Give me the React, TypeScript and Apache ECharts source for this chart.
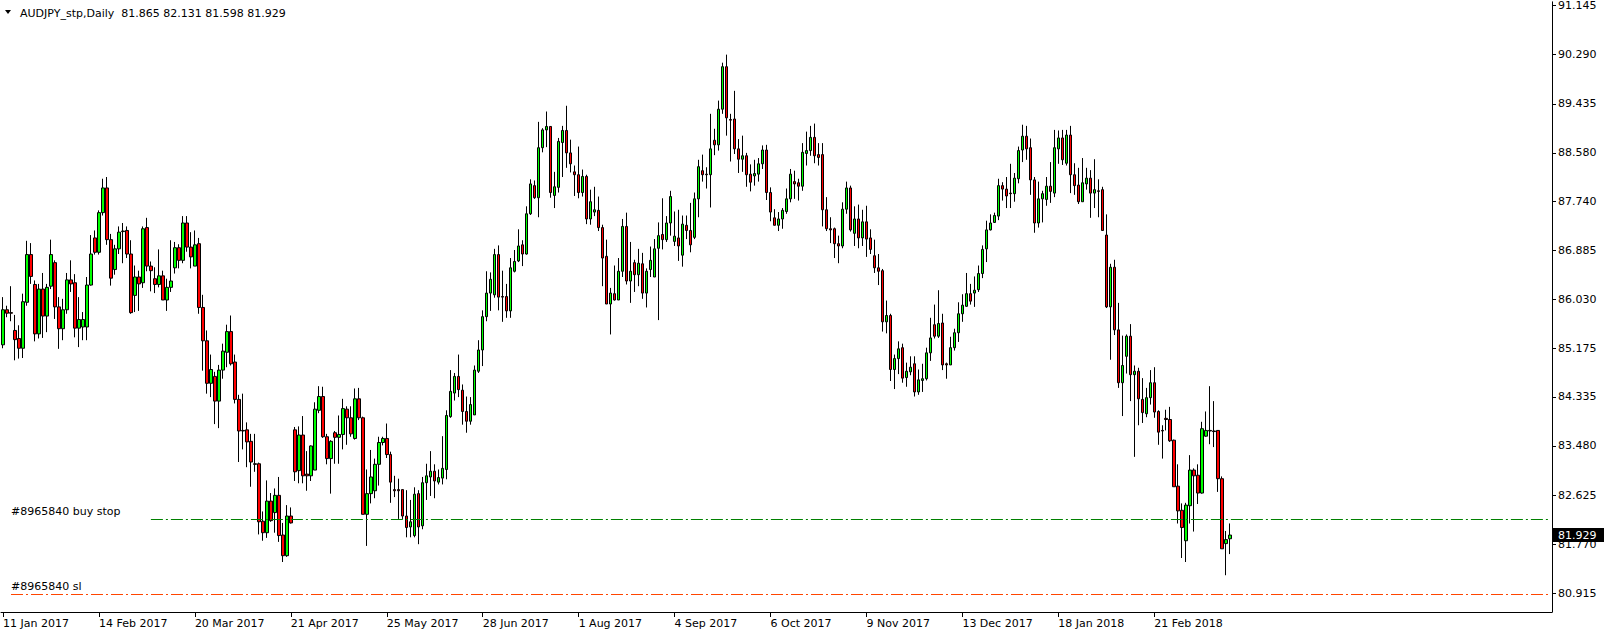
import React, { useEffect, useRef } from "react";
import * as echarts from "echarts";

const FONT = "DejaVu Sans";
const SYMBOL_TITLE = "AUDJPY_stp,Daily";
const MONTHS = ["Jan", "Feb", "Mar", "Apr", "May", "Jun", "Jul", "Aug", "Sep", "Oct", "Nov", "Dec"];
const FIRST_DAY = "2017-01-11";
const HOLIDAYS = ["2017-12-25", "2018-01-01"];
const TOTAL_SLOTS = 388;
const LABEL_EVERY = 24;

const yTickValues = [91.145, 90.29, 89.435, 88.58, 87.74, 86.885, 86.03, 85.175, 84.335, 83.48, 82.625, 81.77, 80.915];
const BUY_STOP = 82.2;
const STOP_LOSS = 80.9;
const BUY_STOP_LABEL = "#8965840 buy stop";
const SL_LABEL = "#8965840 sl";

const opens = [
  85.24, 85.85, 85.80, 85.49, 85.35, 85.18, 85.98, 86.81, 86.29, 85.43, 86.21, 85.74, 86.26, 86.67, 85.90, 85.52, 85.85, 86.37, 86.32, 85.53,
  85.55, 85.55, 86.28, 87.10, 86.85, 87.54, 87.97, 87.07, 86.55, 86.91, 87.21, 87.23, 86.82, 86.10, 86.42, 86.32, 87.28, 86.61, 86.39, 86.29,
  86.44, 86.02, 86.24, 86.58, 86.93, 86.71, 87.36, 86.94, 86.61, 87.00, 85.89, 85.31, 84.57, 84.69, 84.26, 84.80, 85.11, 85.47, 84.94, 84.29,
  83.75, 83.76, 83.56, 83.17, 83.17, 82.17, 81.97, 82.52, 82.32, 82.62, 81.93, 81.57, 82.26, 83.76, 83.05, 83.67, 82.99, 82.96, 83.06, 84.10,
  84.34, 83.64, 83.26, 83.71, 83.63, 83.68, 84.12, 83.97, 83.61, 84.30, 83.97, 82.29, 82.65, 82.70, 83.16, 83.54, 83.61, 83.33, 82.72, 82.72,
  82.72, 82.26, 82.07, 81.92, 82.65, 82.09, 82.84, 82.94, 83.04, 82.85, 82.92, 83.07, 83.99, 84.40, 84.69, 84.45, 84.08, 83.91, 84.02, 84.78,
  85.15, 85.73, 86.14, 86.11, 86.81, 86.08, 86.08, 85.83, 86.52, 86.70, 86.98, 86.82, 87.52, 88.01, 87.80, 88.67, 88.98, 89.04, 87.84, 87.98,
  88.76, 88.97, 88.58, 88.25, 88.20, 87.89, 88.17, 87.43, 87.55, 87.58, 87.28, 86.78, 85.95, 86.13, 86.02, 86.52, 87.30, 86.35, 86.67, 86.46,
  86.65, 86.14, 86.55, 86.42, 86.92, 87.16, 87.07, 87.36, 87.04, 87.10, 86.80, 87.32, 87.23, 87.11, 87.78, 88.27, 88.21, 88.20, 88.80, 88.72,
  89.34, 90.08, 89.16, 89.17, 88.65, 88.47, 88.53, 88.21, 88.18, 88.21, 88.39, 88.63, 87.89, 87.45, 87.32, 87.43, 87.56, 87.78, 88.08, 88.06,
  88.00, 88.57, 88.62, 88.85, 88.55, 88.55, 87.59, 87.26, 87.26, 87.00, 86.96, 87.60, 87.97, 87.18, 87.43, 87.10, 87.38, 87.10, 86.79, 86.58,
  86.53, 85.64, 85.75, 84.81, 85.00, 85.19, 84.67, 84.77, 84.91, 84.42, 84.62, 84.65, 85.10, 85.59, 85.39, 85.62, 84.91, 84.89, 85.19, 85.45,
  85.78, 85.91, 86.13, 86.14, 86.20, 86.48, 86.91, 87.24, 87.37, 87.48, 88.01, 87.95, 87.88, 87.87, 88.13, 88.63, 88.87, 88.67, 88.11, 87.36,
  87.78, 87.77, 88.00, 87.88, 88.65, 88.84, 88.40, 88.89, 88.20, 88.02, 87.73, 88.04, 88.14, 87.88, 87.92, 87.94, 87.15, 85.90, 86.59, 85.50,
  84.58, 85.04, 85.39, 84.72, 84.78, 84.29, 84.04, 84.32, 84.58, 84.08, 83.75, 83.96, 83.94, 83.58, 82.78, 82.36, 81.83, 82.44, 83.06, 82.97,
  82.66, 83.65, 83.75, 83.74, 83.75, 82.91, 81.78, 81.865,
];

const highs = [
  86.07, 85.92, 86.26, 85.76, 85.58, 86.13, 87.05, 87.01, 86.36, 86.30, 86.49, 86.30, 87.07, 86.71, 86.07, 86.04, 86.49, 86.71, 86.47, 86.07,
  85.81, 86.42, 87.15, 87.23, 87.58, 88.13, 88.16, 87.17, 86.98, 87.30, 87.36, 87.30, 87.06, 86.62, 86.53, 87.30, 87.45, 86.69, 86.59, 86.90,
  86.53, 86.39, 87.06, 87.03, 86.99, 87.48, 87.48, 87.20, 87.23, 87.10, 86.11, 85.49, 85.07, 84.77, 84.89, 85.26, 85.59, 85.75, 85.07, 84.37,
  84.39, 83.89, 83.69, 83.69, 83.19, 82.34, 82.88, 82.66, 82.74, 82.94, 82.14, 82.45, 82.41, 83.81, 83.82, 84.00, 83.39, 83.49, 84.24, 84.52,
  84.51, 83.69, 83.58, 83.74, 84.01, 84.30, 84.17, 84.17, 84.48, 84.49, 83.99, 83.07, 83.41, 83.26, 83.64, 83.64, 83.87, 83.38, 82.96, 82.91,
  82.72, 82.71, 82.54, 82.76, 82.71, 82.94, 83.17, 83.39, 83.16, 83.07, 83.65, 84.10, 84.80, 84.75, 85.07, 84.55, 84.34, 84.33, 84.88, 85.32,
  85.84, 86.52, 86.50, 86.91, 86.97, 86.53, 86.30, 86.75, 86.89, 87.25, 87.06, 87.65, 88.12, 88.10, 89.12, 89.01, 89.30, 89.04, 88.25, 88.84,
  89.05, 89.40, 88.81, 88.36, 88.69, 88.29, 88.20, 87.94, 87.99, 87.82, 87.33, 87.07, 86.23, 86.62, 86.75, 87.43, 87.54, 87.03, 86.72, 86.91,
  86.84, 86.57, 86.95, 87.08, 87.37, 87.79, 87.48, 87.92, 87.56, 87.59, 87.49, 87.49, 87.71, 87.89, 88.46, 88.55, 88.33, 89.26, 89.00, 89.49,
  90.15, 90.29, 89.26, 89.66, 88.82, 88.88, 88.58, 88.38, 88.46, 88.49, 88.71, 88.72, 87.98, 87.60, 87.55, 87.62, 87.96, 88.30, 88.27, 88.13,
  88.75, 88.95, 89.05, 89.09, 88.75, 88.75, 87.81, 87.46, 87.28, 87.14, 87.72, 88.08, 88.01, 87.65, 87.68, 87.59, 87.66, 87.25, 87.07, 86.82,
  86.56, 86.01, 85.78, 85.07, 85.30, 85.26, 84.93, 85.04, 85.04, 84.81, 84.91, 85.19, 85.71, 85.94, 86.19, 85.78, 84.93, 85.38, 85.52, 85.98,
  86.12, 86.49, 86.30, 86.43, 86.62, 86.97, 87.40, 87.51, 87.54, 88.13, 88.07, 88.16, 88.39, 88.23, 88.69, 89.07, 89.05, 88.83, 88.16, 88.08,
  87.92, 88.16, 88.42, 88.98, 88.97, 88.98, 88.98, 89.05, 88.40, 88.32, 88.49, 88.32, 88.28, 88.47, 88.12, 87.99, 87.51, 86.65, 86.72, 85.97,
  85.40, 85.42, 85.60, 84.88, 84.84, 84.66, 84.49, 84.80, 84.85, 84.10, 83.84, 84.11, 84.16, 83.59, 83.16, 82.48, 82.49, 83.32, 83.09, 83.16,
  83.90, 84.08, 84.52, 84.26, 83.75, 82.95, 82.00, 82.131,
];

const lows = [
  85.18, 85.72, 85.65, 84.97, 85.00, 85.01, 85.92, 86.30, 85.30, 85.35, 85.36, 85.46, 86.21, 85.69, 85.17, 85.32, 85.78, 86.16, 85.37, 85.20,
  85.32, 85.32, 86.27, 86.81, 86.81, 87.49, 86.98, 86.27, 86.46, 86.82, 86.66, 86.75, 85.78, 85.81, 85.83, 86.23, 86.52, 86.17, 86.14, 86.24,
  86.02, 85.83, 86.16, 86.48, 86.57, 86.66, 86.86, 86.57, 86.61, 85.78, 84.79, 84.39, 84.33, 83.86, 83.79, 84.65, 84.85, 84.88, 84.22, 83.20,
  83.42, 83.11, 82.77, 83.03, 81.94, 81.83, 81.88, 82.16, 81.97, 81.81, 81.46, 81.55, 82.13, 82.87, 82.83, 82.83, 82.70, 82.87, 83.06, 84.05,
  83.62, 83.16, 82.65, 83.17, 83.17, 83.42, 83.50, 83.64, 83.59, 83.93, 82.29, 81.74, 82.48, 82.57, 82.79, 83.49, 83.27, 82.49, 82.59, 82.21,
  82.21, 81.89, 81.89, 81.89, 81.77, 82.03, 82.54, 82.61, 82.57, 82.81, 82.81, 82.90, 83.97, 84.27, 84.33, 83.85, 83.71, 83.85, 84.02, 84.75,
  84.87, 85.65, 85.83, 86.06, 85.84, 85.64, 85.71, 85.71, 86.50, 86.68, 86.61, 86.81, 87.50, 87.78, 87.46, 88.59, 88.68, 87.80, 87.62, 87.89,
  88.16, 88.32, 88.24, 87.83, 87.79, 87.82, 87.34, 87.33, 87.48, 87.22, 86.26, 85.95, 85.42, 86.01, 86.02, 86.42, 86.29, 85.97, 86.16, 86.26,
  86.04, 85.89, 86.42, 86.42, 85.67, 86.90, 87.03, 87.14, 86.96, 86.70, 86.60, 87.08, 86.85, 87.08, 87.46, 88.08, 87.96, 87.63, 88.54, 88.62,
  89.26, 88.88, 88.43, 88.56, 88.23, 88.25, 87.99, 87.91, 88.01, 88.08, 88.30, 87.76, 87.39, 87.32, 87.22, 87.26, 87.52, 87.72, 87.78, 87.75,
  87.92, 88.36, 88.53, 88.40, 88.36, 87.30, 87.22, 87.01, 86.75, 86.66, 86.92, 87.52, 87.21, 86.96, 86.92, 86.96, 86.77, 86.82, 86.49, 86.28,
  85.47, 85.44, 84.61, 84.47, 84.73, 84.58, 84.51, 84.71, 84.34, 84.37, 84.42, 84.62, 84.96, 85.35, 85.36, 84.80, 84.65, 84.89, 85.14, 85.29,
  85.64, 85.90, 85.94, 85.90, 86.16, 86.40, 86.68, 87.23, 87.36, 87.41, 87.75, 87.62, 87.62, 87.73, 88.05, 88.42, 88.46, 87.85, 87.19, 87.28,
  87.37, 87.66, 87.71, 87.81, 88.39, 88.37, 88.36, 87.88, 87.85, 87.69, 87.73, 87.94, 87.45, 87.62, 87.46, 87.23, 85.88, 84.98, 85.41, 84.49,
  84.00, 84.74, 84.26, 83.29, 83.84, 83.88, 83.98, 84.20, 83.97, 83.50, 83.26, 83.75, 83.55, 82.77, 82.13, 81.53, 81.46, 82.13, 81.99, 82.47,
  82.65, 83.64, 83.51, 83.46, 82.68, 81.69, 81.23, 81.598,
];

const closes = [
  85.85, 85.79, 85.79, 85.33, 85.18, 85.99, 86.81, 86.43, 85.43, 86.21, 85.74, 86.24, 86.81, 85.90, 85.52, 85.85, 86.37, 86.30, 85.53, 85.68,
  85.68, 86.28, 86.82, 86.85, 87.54, 87.97, 87.07, 86.40, 86.91, 87.20, 87.22, 86.82, 85.80, 86.42, 86.30, 87.26, 86.61, 86.53, 86.29, 86.44,
  86.02, 86.24, 86.35, 86.93, 86.71, 87.36, 86.94, 86.77, 86.98, 85.89, 85.31, 84.57, 84.81, 84.26, 84.80, 85.13, 85.47, 84.91, 84.29, 83.74,
  83.74, 83.55, 83.20, 83.16, 82.16, 81.97, 82.52, 82.18, 82.62, 81.92, 81.57, 82.26, 82.14, 83.03, 83.67, 82.96, 82.96, 83.48, 84.12, 84.34,
  83.64, 83.26, 83.56, 83.63, 83.68, 84.13, 83.97, 83.69, 84.30, 83.97, 82.29, 82.65, 82.94, 83.16, 83.54, 83.61, 83.33, 82.85, 82.70, 82.70,
  82.26, 82.06, 82.16, 82.64, 82.07, 82.84, 82.96, 83.04, 82.87, 82.93, 83.09, 84.01, 84.43, 84.69, 84.46, 84.08, 83.91, 84.20, 84.80, 85.15,
  85.73, 86.14, 86.38, 86.81, 86.07, 86.07, 85.83, 86.58, 86.69, 86.96, 86.82, 87.52, 88.04, 87.80, 88.67, 88.98, 89.04, 87.89, 87.99, 88.78,
  88.97, 88.58, 88.39, 88.20, 87.89, 88.17, 87.43, 87.73, 87.59, 87.28, 86.75, 85.95, 86.14, 86.02, 86.52, 87.30, 86.35, 86.52, 86.46, 86.66,
  86.14, 86.52, 86.71, 86.91, 87.14, 87.07, 87.36, 87.82, 87.13, 86.96, 87.34, 87.23, 86.98, 87.78, 88.34, 88.20, 88.20, 88.65, 88.72, 89.34,
  90.08, 89.19, 89.15, 88.65, 88.47, 88.53, 88.20, 88.07, 88.22, 88.39, 88.63, 87.89, 87.55, 87.32, 87.43, 87.58, 87.78, 88.21, 88.04, 88.00,
  88.59, 88.62, 88.85, 88.53, 88.50, 87.59, 87.26, 87.24, 87.00, 86.96, 87.60, 87.97, 87.24, 87.43, 87.10, 87.38, 87.08, 86.90, 86.58, 86.52,
  85.64, 85.75, 84.81, 85.00, 85.17, 84.66, 84.78, 84.85, 84.42, 84.63, 84.65, 85.10, 85.36, 85.39, 85.61, 84.89, 84.89, 85.19, 85.45, 85.78,
  85.93, 86.13, 86.00, 86.19, 86.48, 86.90, 87.24, 87.36, 87.49, 88.01, 87.95, 87.83, 87.87, 88.14, 88.62, 88.87, 88.65, 88.11, 87.36, 87.78,
  87.87, 88.00, 87.91, 88.67, 88.84, 88.46, 88.89, 88.20, 88.01, 87.73, 88.06, 88.14, 87.88, 87.94, 87.91, 87.23, 85.90, 86.59, 85.50, 84.58,
  84.88, 85.39, 84.72, 84.78, 84.30, 84.06, 84.32, 84.58, 84.07, 83.72, 83.74, 83.94, 83.57, 82.77, 82.35, 82.06, 82.45, 83.06, 82.96, 82.66,
  83.78, 83.75, 83.74, 83.73, 82.91, 81.69, 81.85, 81.929,
];

function buildDates(count: number): string[] {
  const out: string[] = [];
  let t = Date.parse(FIRST_DAY + "T00:00:00Z");
  while (out.length < count) {
    const d = new Date(t);
    const wd = d.getUTCDay();
    const iso = d.toISOString().slice(0, 10);
    if (wd !== 0 && wd !== 6 && !HOLIDAYS.includes(iso)) {
      out.push(`${d.getUTCDate()} ${MONTHS[d.getUTCMonth()]} ${d.getUTCFullYear()}`);
    }
    t += 86400000;
  }
  return out;
}

export default function App() {
  const ref = useRef<HTMLDivElement>(null);

  useEffect(() => {
    if (!ref.current) return;
    const chart = echarts.init(ref.current, null, { renderer: "svg" });
    const dates = buildDates(TOTAL_SLOTS);
    const n = closes.length;
    const candles = closes.map((c, i) => [opens[i], c, lows[i], highs[i]]);
    const showLabel = (idx: number) => idx % LABEL_EVERY === 0 && idx < n;
    const last = n - 1;
    const header = `${SYMBOL_TITLE}  ${opens[last].toFixed(3)} ${highs[last].toFixed(3)} ${lows[last].toFixed(3)} ${closes[last].toFixed(3)}`;
    const dash = [12, 3, 2, 3];

    chart.setOption({
      animation: false,
      backgroundColor: "#ffffff",
      textStyle: { fontFamily: FONT },
      grid: { left: 1, right: 52, top: 1, bottom: 24, containLabel: false },
      xAxis: {
        type: "category",
        data: dates,
        boundaryGap: true,
        axisLine: { show: true, lineStyle: { color: "#000", width: 1 } },
        axisTick: { show: true, alignWithLabel: true, interval: showLabel, length: 5, lineStyle: { color: "#000" } },
        axisLabel: {
          interval: showLabel,
          align: "left",
          color: "#000",
          fontFamily: FONT,
          fontSize: 11,
          margin: 6,
        },
        splitLine: { show: false },
      },
      yAxis: {
        type: "value",
        position: "right",
        min: 80.59,
        max: 91.209,
        axisLine: { show: true, lineStyle: { color: "#000", width: 1 } },
        axisTick: { show: true, length: 4, customValues: yTickValues, lineStyle: { color: "#000" } },
        axisLabel: {
          customValues: yTickValues,
          formatter: (v: number) => v.toFixed(3),
          color: "#000",
          fontFamily: FONT,
          fontSize: 11,
          margin: 6,
        },
        splitLine: { show: false },
      },
      series: [
        {
          type: "candlestick",
          data: candles,
          barWidth: 3,
          itemStyle: {
            color: "#00ff00",
            color0: "#ff0000",
            borderColor: "#000",
            borderColor0: "#000",
            borderColorDoji: "#000",
            borderWidth: 1,
          },
          markLine: {
            silent: true,
            symbol: "none",
            animation: false,
            label: { show: false },
            data: [
              [
                { coord: [37, BUY_STOP], lineStyle: { color: "#008000", type: dash, width: 1 } },
                { coord: [TOTAL_SLOTS - 1, BUY_STOP] },
              ],
              [
                { coord: [2, STOP_LOSS], lineStyle: { color: "#ff4500", type: dash, width: 1 } },
                { coord: [TOTAL_SLOTS - 1, STOP_LOSS] },
              ],
            ],
          },
        },
      ],
    });

    const yBuy = chart.convertToPixel({ yAxisIndex: 0 }, BUY_STOP) as number;
    const ySl = chart.convertToPixel({ yAxisIndex: 0 }, STOP_LOSS) as number;
    const yLast = chart.convertToPixel({ yAxisIndex: 0 }, closes[last]) as number;

    chart.setOption({
      graphic: [
        { type: "polygon", shape: { points: [[5, 10], [11, 10], [8, 14]] }, style: { fill: "#000" } },
        {
          type: "text",
          x: 20,
          y: 13,
          style: { text: header, fill: "#000", font: `11px "${FONT}"`, textVerticalAlign: "middle" },
        },
        {
          type: "text",
          x: 11,
          y: yBuy - 8,
          style: { text: BUY_STOP_LABEL, fill: "#000", font: `11px "${FONT}"`, textVerticalAlign: "middle" },
        },
        {
          type: "text",
          x: 11,
          y: ySl - 8,
          style: { text: SL_LABEL, fill: "#000", font: `11px "${FONT}"`, textVerticalAlign: "middle" },
        },
        {
          type: "rect",
          z: 100,
          shape: { x: 1553, y: yLast - 7, width: 51, height: 14 },
          style: { fill: "#000" },
        },
        {
          type: "text",
          z: 101,
          x: 1558,
          y: yLast,
          style: { text: closes[last].toFixed(3), fill: "#fff", font: `11px "${FONT}"`, textVerticalAlign: "middle" },
        },
      ],
    });

    return () => chart.dispose();
  }, []);

  return <div ref={ref} style={{ position: "fixed", left: 0, top: 0, width: 1604, height: 636 }} />;
}
